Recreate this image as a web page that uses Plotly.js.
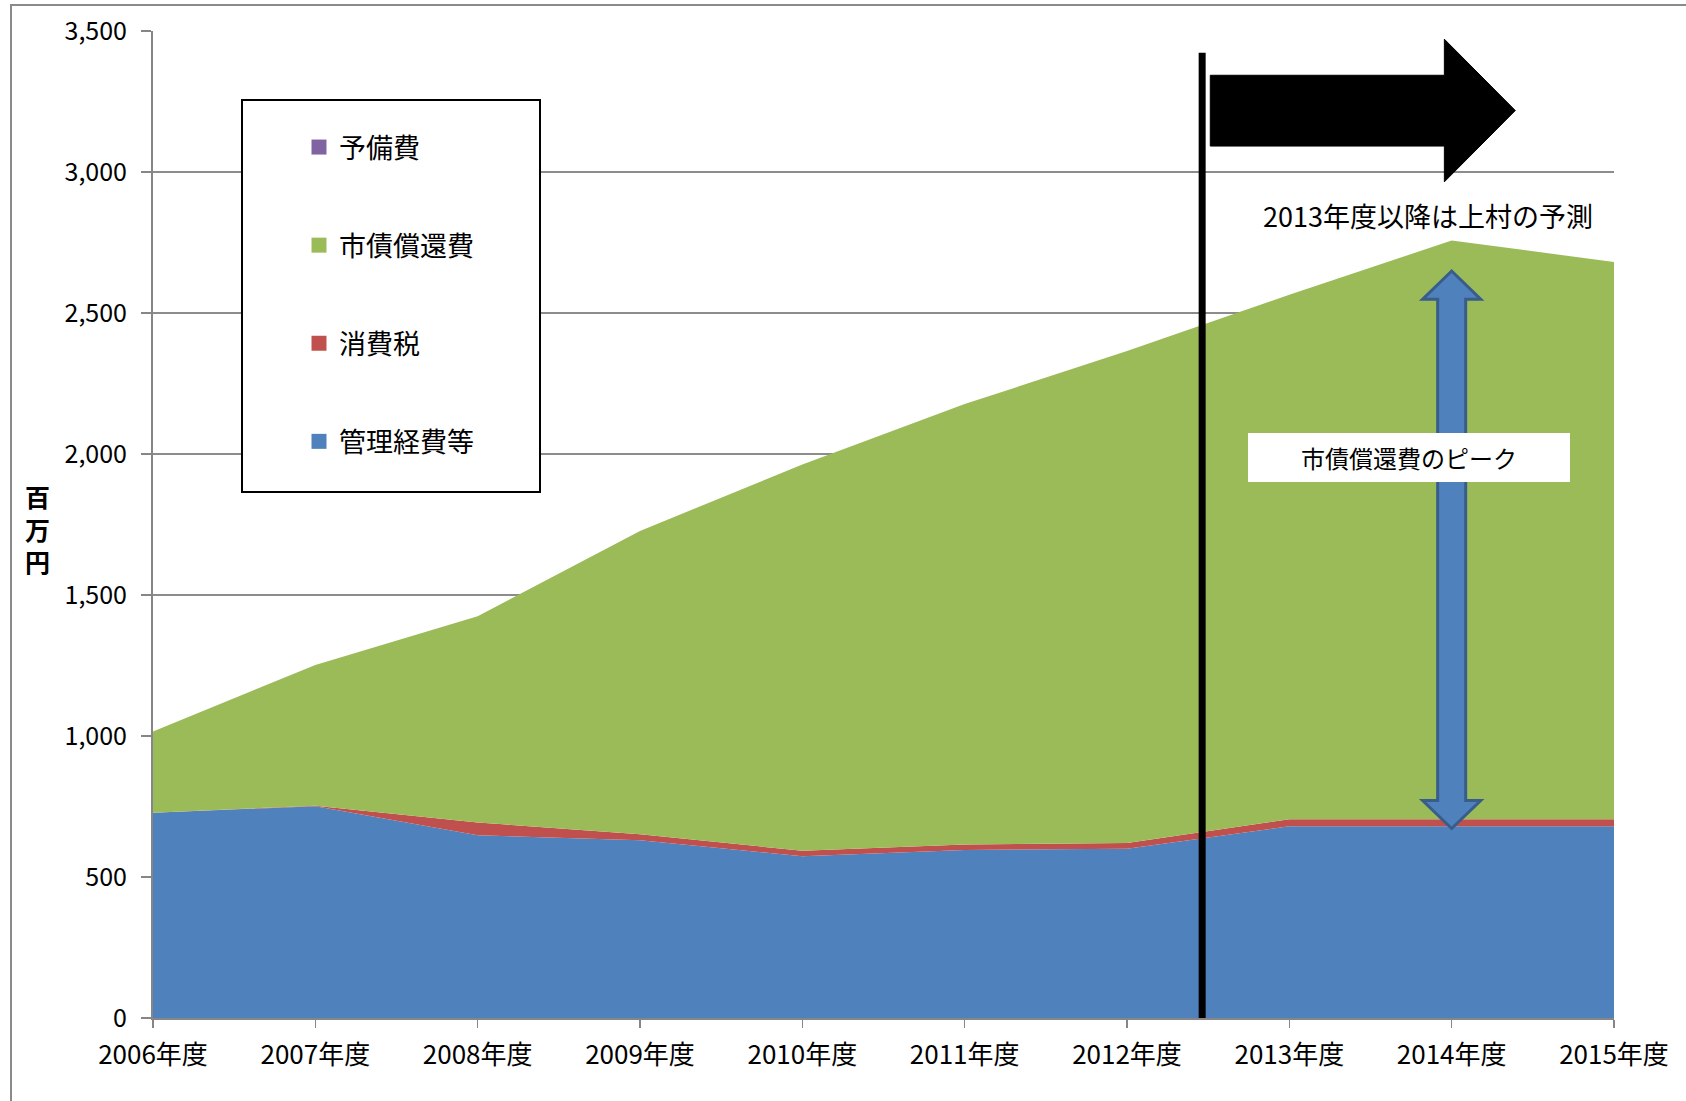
<!DOCTYPE html>
<html>
<head>
<meta charset="utf-8">
<script src="https://cdn.plot.ly/plotly-3.0.1.min.js"></script>
<style>
html,body{margin:0;padding:0;background:#fff;}
#chart{width:1686px;height:1101px;}
</style>
</head>
<body>
<div id="chart"></div>
<script>
// ---- data ----
const categories = ["2006年度","2007年度","2008年度","2009年度","2010年度","2011年度","2012年度","2013年度","2014年度","2015年度"];
const kanri   = [728, 751, 648, 630, 574, 596, 600, 680, 680, 680];   // 管理経費等
const shohizei = [0, 2, 45, 22, 19, 19, 21, 25, 25, 25];             // 消費税
const saisho  = [288, 499, 732, 1075, 1370, 1562, 1744, 1860, 2052, 1976]; // 市債償還費
const yobi    = [0, 0, 0, 0, 0, 0, 0, 0, 0, 0];                       // 予備費
const seriesNames = ["管理経費等", "消費税", "市債償還費", "予備費"];
const seriesColors = ["#4F81BD", "#C0504D", "#9BBB59", "#8064A2"];
const yTicks = [0, 500, 1000, 1500, 2000, 2500, 3000, 3500];

const FONT = "Noto Sans CJK JP, Noto Sans, sans-serif";
const xIdx = categories.map((c, i) => i);
const seriesVals = [kanri, shohizei, saisho, yobi];

const traces = [];
seriesVals.forEach((vals, k) => {
  traces.push({
    type: "scatter", mode: "lines", x: xIdx, y: vals,
    stackgroup: "one", line: {width: 0, color: seriesColors[k]},
    fillcolor: seriesColors[k], name: seriesNames[k],
    showlegend: false, hoverinfo: "skip"
  });
});
// legend entries (display order top -> bottom)
[3, 2, 1, 0].forEach(k => {
  traces.push({
    type: "scatter", mode: "markers", x: [null], y: [null],
    name: seriesNames[k], legendgroup: "g" + k,
    marker: {symbol: "square", size: 15, color: seriesColors[k]},
    showlegend: true, hoverinfo: "skip"
  });
});

// pixel helpers for paper-referenced decorations
const L = 153, R = 72, T = 31, B = 83, W = 1686, H = 1101;
const pw = W - L - R, ph = H - T - B;
const px = v => (v - L) / pw;
const py = v => (H - B - v) / ph;

// arrow geometry (data coordinates)
const bx0 = 6.513, bxh = 7.955, bxt = 8.392;
const bst = 3343, bsb = 3092, bht = 3471, bhb = 2965, bty = 3218;
const blackArrow = `M${bx0},${bst} L${bxh},${bst} L${bxh},${bht} L${bxt},${bty} L${bxh},${bhb} L${bxh},${bsb} L${bx0},${bsb} Z`;

const cx = 8, sw = 0.0863, hw = 0.179;
const tTop = 2649, hTop = 2549, tBot = 672, hBot = 771;
const blueArrow = `M${cx},${tTop} L${cx+hw},${hTop} L${cx+sw},${hTop} L${cx+sw},${hBot} L${cx+hw},${hBot} L${cx},${tBot} L${cx-hw},${hBot} L${cx-sw},${hBot} L${cx-sw},${hTop} L${cx-hw},${hTop} Z`;

const layout = {
  width: W, height: H,
  margin: {l: L, r: R, t: T, b: B},
  paper_bgcolor: "#ffffff", plot_bgcolor: "#ffffff",
  font: {family: FONT, color: "#000000", size: 24},
  showlegend: true,
  legend: {
    x: px(299), y: py(123), xanchor: "left", yanchor: "top",
    bgcolor: "rgba(0,0,0,0)", borderwidth: 0,
    font: {family: FONT, size: 27, color: "#000"},
    traceorder: "grouped", tracegroupgap: 60, itemwidth: 30
  },
  xaxis: {
    type: "linear", range: [0, 9],
    tickvals: xIdx, ticktext: categories,
    showgrid: false, zeroline: false,
    showline: true, linecolor: "#868686", linewidth: 2,
    ticks: "outside", ticklen: 8, tickcolor: "#868686", tickwidth: 1.5,
    tickfont: {family: FONT, size: 26, color: "#000"},
    ticklabelstandoff: 5, fixedrange: true
  },
  yaxis: {
    range: [0, 3500], tickvals: yTicks, tickformat: ",",
    showgrid: true, gridcolor: "#8c8c8c", gridwidth: 1.5,
    zeroline: false,
    showline: true, linecolor: "#868686", linewidth: 2,
    ticks: "outside", ticklen: 10, tickcolor: "#868686", tickwidth: 1.5,
    tickfont: {family: FONT, size: 25, color: "#000"},
    ticklabelstandoff: 9, fixedrange: true
  },
  shapes: [
    // outer chart border (left & top visible)
    {type: "rect", xref: "paper", yref: "paper", x0: px(11), x1: 1.2, y0: -0.2, y1: py(5),
     line: {color: "#8a8a8a", width: 2}, fillcolor: "rgba(0,0,0,0)", layer: "below"},
    // legend frame
    {type: "rect", xref: "paper", yref: "paper", x0: px(242), x1: px(540), y0: py(492), y1: py(100),
     line: {color: "#000", width: 2}, fillcolor: "#ffffff", layer: "above"},
    // forecast divider line
    {type: "line", xref: "x", yref: "y", x0: 6.463, x1: 6.463, y0: 0, y1: 3423,
     line: {color: "#000", width: 7}},
    // black forecast arrow
    {type: "path", xref: "x", yref: "y", path: blackArrow, fillcolor: "#000", line: {color: "#000", width: 1}},
    // blue double arrow
    {type: "path", xref: "x", yref: "y", path: blueArrow, fillcolor: "#4F81BD", line: {color: "#385D8A", width: 3}}
  ],
  annotations: [
    {xref: "x", yref: "y", x: 7.856, y: 2846, text: "2013年度以降は上村の予測", showarrow: false,
     font: {family: FONT, size: 27, color: "#000"}},
    {xref: "x", yref: "y", x: 7.739, y: 1989, text: "市債償還費のピーク", showarrow: false,
     width: 322, height: 49, bgcolor: "#ffffff", borderpad: 0, borderwidth: 0,
     font: {family: FONT, size: 24, color: "#000"}},
    {xref: "paper", yref: "paper", x: px(37.5), y: py(528), xanchor: "center", yanchor: "middle",
     text: "百<br>万<br>円", showarrow: false,
     font: {family: FONT, size: 25, color: "#000", weight: 700}}
  ]
};

Plotly.newPlot("chart", traces, layout, {displayModeBar: false, staticPlot: true});
</script>
</body>
</html>
